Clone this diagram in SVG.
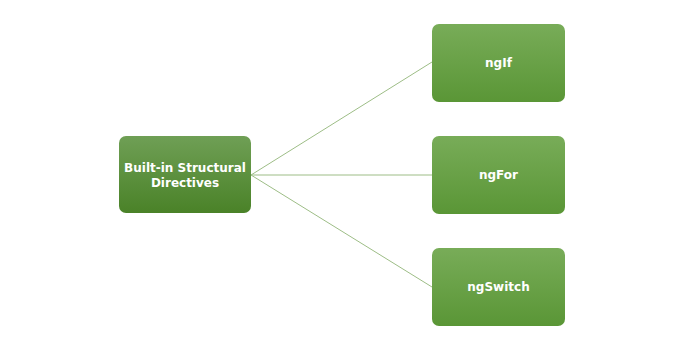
<svg xmlns="http://www.w3.org/2000/svg" width="700" height="350" viewBox="0 0 700 350">
<defs>
<linearGradient id="g1" x1="0" y1="0" x2="0" y2="1">
<stop offset="0" stop-color="#6f9f55"/>
<stop offset="1" stop-color="#4a8228"/>
</linearGradient>
<linearGradient id="g2" x1="0" y1="0" x2="0" y2="1">
<stop offset="0" stop-color="#78ac58"/>
<stop offset="1" stop-color="#5a9636"/>
</linearGradient>
</defs>
<style>
.t{font-family:"DejaVu Sans",Verdana,sans-serif;font-weight:bold;font-size:12px;fill:#ffffff;text-anchor:middle}
.c{stroke:#9dbd86;stroke-width:1;fill:none}
</style>
<rect width="700" height="350" fill="#ffffff"/>
<g id="connectors">
<line class="c" x1="251" y1="175" x2="432" y2="62"/>
<line class="c" x1="251" y1="175" x2="432" y2="175"/>
<line class="c" x1="251" y1="175" x2="432" y2="287"/>
</g>
<g id="root">
<rect x="119" y="136" width="132" height="77" rx="7" fill="url(#g1)"/>
<text class="t" x="185" y="172">Built-in Structural</text>
<text class="t" x="185" y="187">Directives</text>
</g>
<g id="ngIf">
<rect x="432" y="24" width="133" height="78" rx="7" fill="url(#g2)"/>
<text class="t" x="498.5" y="67">ngIf</text>
</g>
<g id="ngFor">
<rect x="432" y="136" width="133" height="78" rx="7" fill="url(#g2)"/>
<text class="t" x="498.5" y="179">ngFor</text>
</g>
<g id="ngSwitch">
<rect x="432" y="248" width="133" height="78" rx="7" fill="url(#g2)"/>
<text class="t" x="498.5" y="291">ngSwitch</text>
</g>
</svg>
